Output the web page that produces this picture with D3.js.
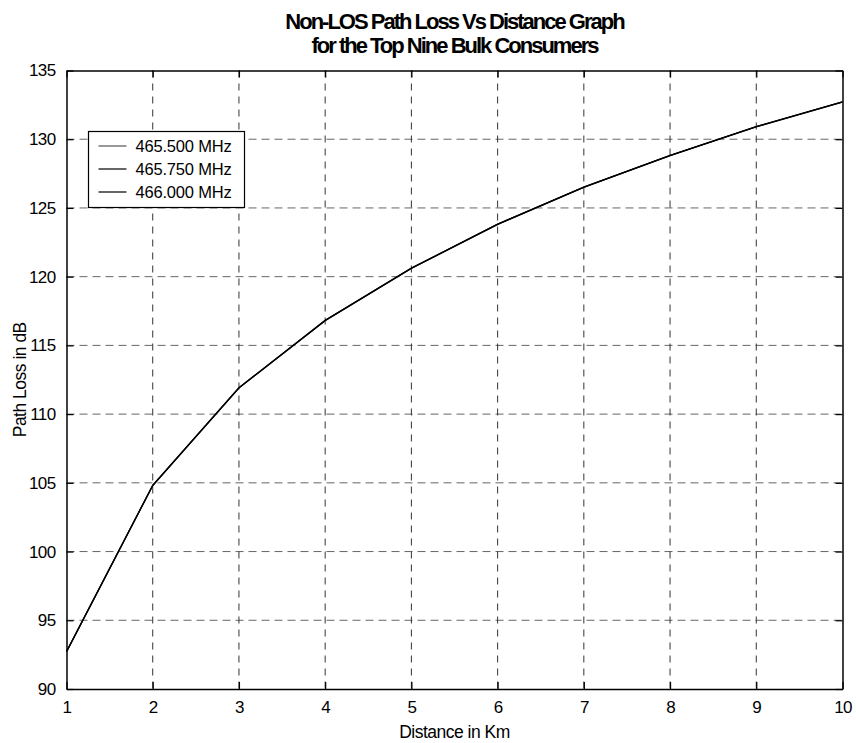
<!DOCTYPE html>
<html>
<head>
<meta charset="utf-8">
<script src="https://cdn.jsdelivr.net/npm/d3@7"></script>
<style>
  body { margin: 0; background: #fff; }
  text { font-family: "Liberation Sans", Arial, sans-serif; }
</style>
</head>
<body>
<div id="chart"></div>
<script>
// distance (km) and path loss (dB)
var distance = [1, 2, 3, 4, 5, 6, 7, 8, 9, 10];
var loss465500 = [92.70, 104.80, 111.90, 116.80, 120.60, 123.80, 126.50, 128.80, 130.90, 132.70];
var loss465750 = [92.71, 104.81, 111.91, 116.81, 120.61, 123.81, 126.51, 128.81, 130.91, 132.71];
var loss466000 = [92.72, 104.82, 111.92, 116.82, 120.62, 123.82, 126.52, 128.82, 130.92, 132.72];
var seriesNames = ["465.500 MHz", "465.750 MHz", "466.000 MHz"];
var xTicks = [1, 2, 3, 4, 5, 6, 7, 8, 9, 10];
var yTicks = [90, 95, 100, 105, 110, 115, 120, 125, 130, 135];

var width = 856, height = 743;
var margin = {left: 66.5, right: 13.5, top: 70.5, bottom: 54};
var pw = width - margin.left - margin.right;
var ph = height - margin.top - margin.bottom;

var svg = d3.select("#chart").append("svg")
    .attr("width", width)
    .attr("height", height);

var x = d3.scaleLinear().domain([1, 10]).range([0, pw]);
var y = d3.scaleLinear().domain([90, 135]).range([ph, 0]);

var g = svg.append("g")
    .attr("transform", "translate(" + margin.left + "," + margin.top + ")");

// grid
g.selectAll(".hgrid")
    .data(yTicks.slice(1, -1))
    .enter().append("line")
    .attr("x1", 0).attr("x2", pw)
    .attr("y1", d => y(d)).attr("y2", d => y(d))
    .attr("stroke", "#666")
    .attr("stroke-width", 1)
    .attr("stroke-dasharray", "8,5");

g.selectAll(".vgrid")
    .data(xTicks.slice(1, -1))
    .enter().append("line")
    .attr("y1", 0).attr("y2", ph)
    .attr("x1", d => x(d)).attr("x2", d => x(d))
    .attr("stroke", "#333")
    .attr("stroke-width", 1)
    .attr("stroke-dasharray", "7,6");

// axes, ticks pointing inward, box on all four sides
var tl = 7;
g.append("g").attr("class", "axis")
    .attr("transform", "translate(0," + ph + ")")
    .call(d3.axisBottom(x).tickValues(xTicks).tickSizeInner(-tl).tickSizeOuter(0).tickPadding(12));
g.append("g").attr("class", "axis")
    .call(d3.axisTop(x).tickValues(xTicks).tickSizeInner(-tl).tickSizeOuter(0).tickFormat(""));
g.append("g").attr("class", "axis")
    .call(d3.axisLeft(y).tickValues(yTicks).tickSizeInner(-tl).tickSizeOuter(0).tickPadding(11));
g.append("g").attr("class", "axis")
    .attr("transform", "translate(" + pw + ",0)")
    .call(d3.axisRight(y).tickValues(yTicks).tickSizeInner(-tl).tickSizeOuter(0).tickFormat(""));

g.selectAll(".axis path").attr("stroke", "#000").attr("stroke-width", 1.5);
g.selectAll(".axis line").attr("stroke", "#000").attr("stroke-width", 1.2);
g.selectAll(".axis text")
    .attr("fill", "#000")
    .style("font-size", "17px")
    .style("letter-spacing", "-0.6px");

// curves
var allSeries = [loss465500, loss465750, loss466000];
var colors = ["#555", "#000", "#000"];
var line = d3.line()
    .x((d, i) => x(distance[i]))
    .y(d => y(d));

g.selectAll(".curve")
    .data(allSeries)
    .enter().append("path")
    .attr("d", d => line(d))
    .attr("fill", "none")
    .attr("stroke", (d, i) => colors[i])
    .attr("stroke-width", 1.3);

// legend
var lg = svg.append("g").attr("transform", "translate(88.5,131.5)");
lg.append("rect")
    .attr("width", 156).attr("height", 76)
    .attr("fill", "#fff").attr("stroke", "#000").attr("stroke-width", 1.2);
var rows = lg.selectAll(".row")
    .data(seriesNames)
    .enter().append("g")
    .attr("transform", (d, i) => "translate(0," + (14.5 + i * 23) + ")");
rows.append("line")
    .attr("x1", 10).attr("x2", 38)
    .attr("stroke", (d, i) => colors[i])
    .attr("stroke-width", 1.2);
rows.append("text")
    .attr("x", 47).attr("dy", "0.35em")
    .style("font-size", "16.5px")
    .style("letter-spacing", "-0.2px")
    .text(d => d);

// titles
var cx = margin.left + pw / 2;
svg.append("text")
    .attr("x", cx).attr("y", 29)
    .attr("text-anchor", "middle")
    .style("font-size", "22px").style("font-weight", "bold")
    .style("letter-spacing", "-2px")
    .text("Non-LOS Path Loss Vs Distance Graph");
svg.append("text")
    .attr("x", cx).attr("y", 53)
    .attr("text-anchor", "middle")
    .style("font-size", "22px").style("font-weight", "bold")
    .style("letter-spacing", "-2px")
    .text("for the Top Nine Bulk Consumers");

svg.append("text")
    .attr("x", cx).attr("y", 738)
    .attr("text-anchor", "middle")
    .style("font-size", "17.5px")
    .style("letter-spacing", "-0.5px")
    .text("Distance in Km");

svg.append("text")
    .attr("transform", "translate(26," + (margin.top + ph / 2) + ") rotate(-90)")
    .attr("text-anchor", "middle")
    .style("font-size", "17.5px")
    .style("letter-spacing", "-0.5px")
    .text("Path Loss in dB");
</script>
</body>
</html>
